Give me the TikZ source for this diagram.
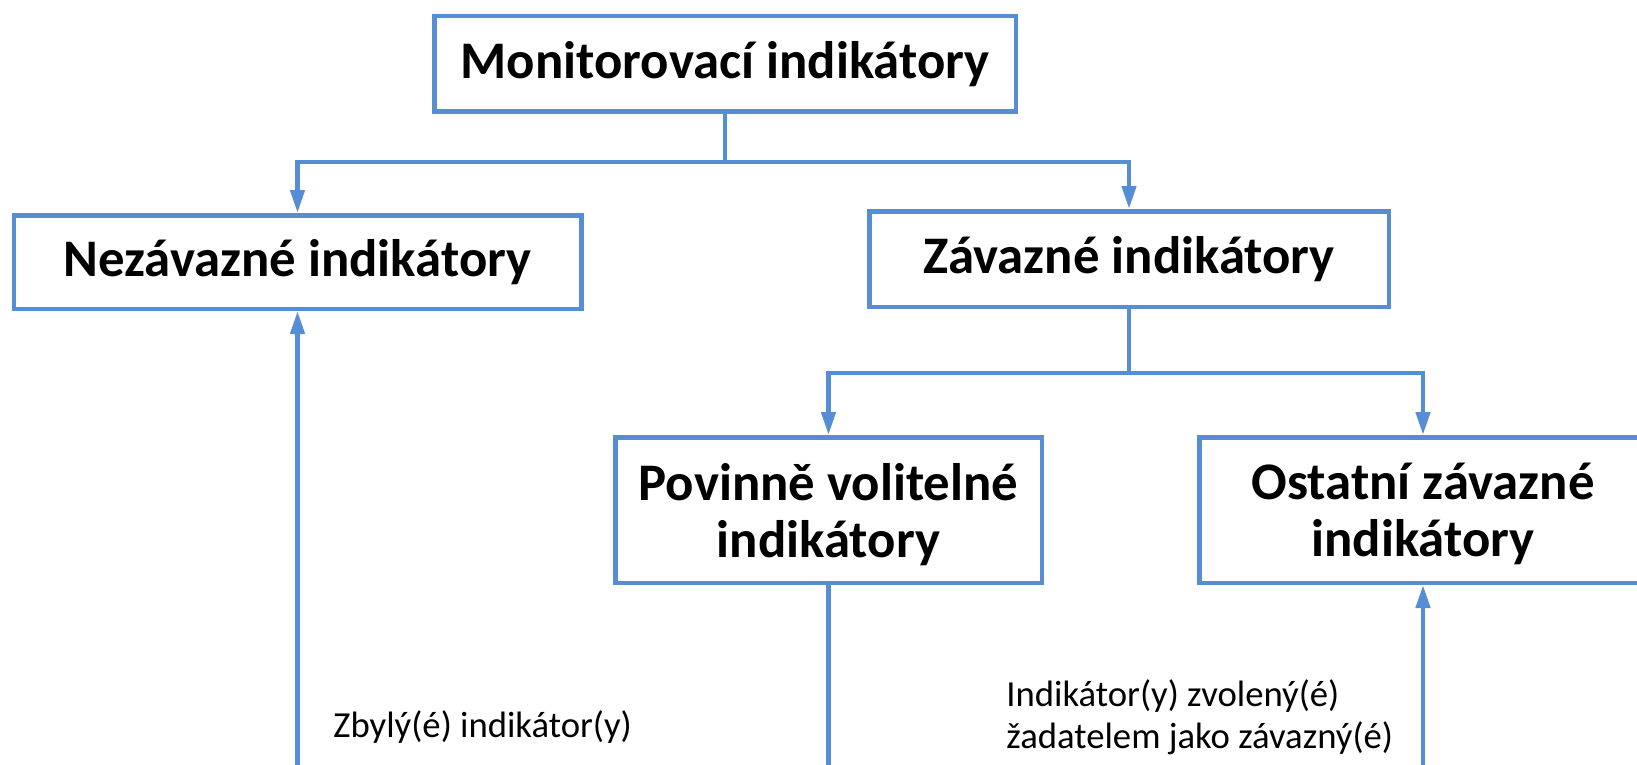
\documentclass[tikz,border=0pt]{standalone}
\usepackage{fontspec}
\setmainfont{Carlito}
\usetikzlibrary{arrows.meta}
\definecolor{chartblue}{RGB}{86,142,213}
\tikzset{
  link/.style={
    draw=chartblue,
    line width=2.25pt
  },
  link-arrow/.style={
    link,
    -{Triangle[width=7pt,length=11.5pt]}
  },
  box/.style={
    draw=chartblue,
    line width=2.25pt,
    fill=white,
    inner sep=0pt,
    align=center,
    font=\fontsize{26.4}{28.5}\selectfont\bfseries
  },
  box-two/.style={
    box,
    text depth=0pt
  },
  note/.style={
    inner sep=0pt,
    align=left,
    font=\fontsize{18.35}{21}\selectfont
  }
}

\begin{document}
\begin{tikzpicture}[x=0.5pt,y=-0.5pt]
  \useasboundingbox (0,0) rectangle (1637,765);
  % Boxes
  \node[box, minimum width=290.75pt, minimum height=47.75pt] (mon) at (725,64) {Monitorovací indikátory};
  \node[box, minimum width=283.75pt, minimum height=46.75pt] (nez) at (297.5,262) {Nezávazné indikátory};
  \node[box, minimum width=259.75pt, minimum height=47.75pt] (zav) at (1129,259) {Závazné indikátory};
  \node[box-two, minimum width=213.25pt, minimum height=72.75pt] (pov) at (828.5,510) {Povinně volitelné\\indikátory};
  \node[box-two, minimum width=223.75pt, minimum height=72.75pt] (ost) at (1423,510) {Ostatní závazné\\indikátory};
  % Split points
  \coordinate (split-top) at (725,162);
  \coordinate (split-zav) at (1129,373);
  % Tree connectors
  \draw[link-arrow] (mon.south) -- (split-top) -| (nez.north);
  \draw[link-arrow] (split-top) -| (zav.north);
  \draw[link-arrow] (zav.south) -- (split-zav) -| (pov.north);
  \draw[link-arrow] (split-zav) -| (ost.north);
  % Lines leaving the bottom edge
  \coordinate (rest-end) at (297.5,765);
  \coordinate (pov-end) at (828.5,765);
  \coordinate (ost-end) at (1423,765);
  \draw[link-arrow] (rest-end) -- (nez.south);
  \draw[link] (pov.south) -- (pov-end);
  \draw[link-arrow] (ost-end) -- (ost.south);
  % Labels
  \node[note, anchor=base west] (rest-label) at (333,737) {Zbylý(é) indikátor(y)};
  \node[note, anchor=base west] (chosen-label) at (1006,748) {Indikátor(y) zvolený(é)\\žadatelem jako závazný(é)};
\end{tikzpicture}
\end{document}
